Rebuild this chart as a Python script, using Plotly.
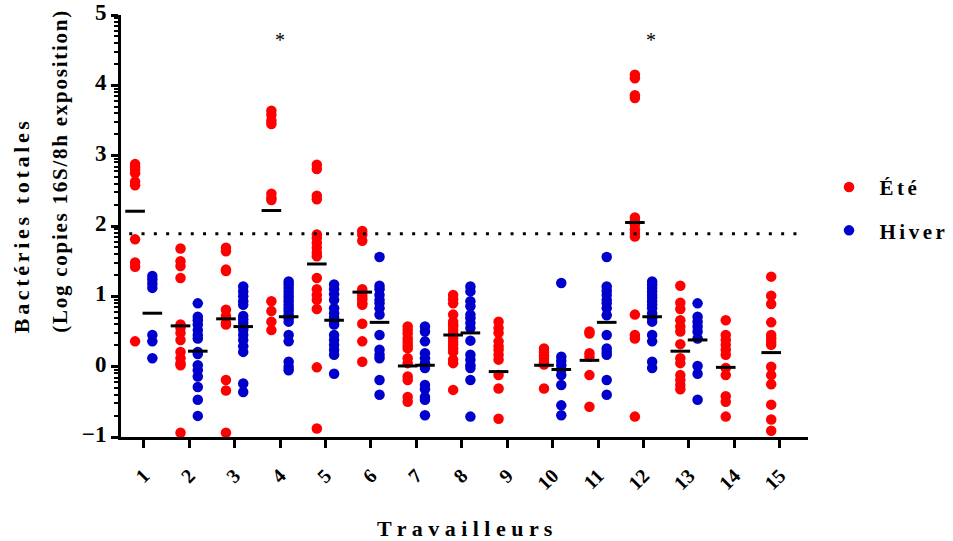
import math
import plotly.graph_objects as go

# ---------------- data ----------------
workers = list(range(1, 16))
tick_labels = [str(w) for w in workers]

ete = {
    1: [2.88, 2.84, 2.80, 2.75, 2.63, 2.58, 1.81, 1.48, 1.42, 0.36],
    2: [1.68, 1.50, 1.43, 1.26, 0.60, 0.55, 0.48, 0.38, 0.21, 0.12, 0.05, 0.02, -0.94],
    3: [1.69, 1.64, 1.38, 1.36, 0.81, 0.72, 0.62, 0.60, -0.19, -0.34, -0.94],
    4: [3.64, 3.58, 3.50, 3.45, 2.46, 2.40, 2.37, 0.93, 0.79, 0.64, 0.52],
    5: [2.87, 2.81, 2.43, 2.38, 1.88, 1.83, 1.76, 1.69, 1.62, 1.57, 1.26, 1.10, 1.02, 0.95, 0.82, -0.01, -0.88],
    6: [1.93, 1.88, 1.79, 1.10, 1.06, 1.02, 0.98, 0.95, 0.90, 0.88, 0.61, 0.36, 0.07],
    7: [0.57, 0.52, 0.47, 0.40, 0.35, 0.30, 0.26, 0.12, 0.05, -0.14, -0.19, -0.43, -0.50],
    8: [1.02, 0.96, 0.90, 0.74, 0.64, 0.60, 0.57, 0.52, 0.48, 0.45, 0.40, 0.35, 0.31, 0.26, 0.21, 0.10, 0.05, -0.33],
    9: [0.64, 0.55, 0.48, 0.36, 0.29, 0.24, 0.17, 0.10, -0.12, -0.31, -0.74],
    10: [0.26, 0.21, 0.16, 0.11, 0.06, 0.03, -0.31],
    11: [0.50, 0.47, 0.19, 0.14, -0.12, -0.57],
    12: [4.15, 4.10, 3.86, 3.82, 2.12, 2.07, 2.02, 1.95, 1.90, 1.85, 0.74, 0.45, 0.40, -0.71],
    13: [1.15, 0.91, 0.82, 0.66, 0.57, 0.50, 0.32, 0.12, 0.05, -0.12, -0.19, -0.26, -0.32],
    14: [0.66, 0.45, 0.38, 0.31, 0.24, 0.17, -0.02, -0.12, -0.42, -0.50, -0.71],
    15: [1.28, 1.01, 0.89, 0.63, 0.45, 0.40, 0.35, 0.31, 0.00, -0.12, -0.25, -0.54, -0.75, -0.91],
}

hiver = {
    1: [1.29, 1.24, 1.18, 1.12, 0.45, 0.36, 0.12],
    2: [0.90, 0.71, 0.66, 0.60, 0.52, 0.45, 0.40, 0.21, 0.18, 0.02, -0.05, -0.14, -0.29, -0.47, -0.70],
    3: [1.14, 1.07, 1.00, 0.93, 0.88, 0.72, 0.67, 0.62, 0.55, 0.52, 0.45, 0.38, 0.29, 0.21, -0.24, -0.36],
    4: [1.21, 1.17, 1.12, 1.07, 1.02, 0.98, 0.93, 0.88, 0.83, 0.79, 0.74, 0.69, 0.64, 0.45, 0.36, 0.07, 0.00, -0.05],
    5: [1.17, 1.10, 1.03, 0.95, 0.83, 0.76, 0.70, 0.64, 0.60, 0.45, 0.38, 0.31, 0.24, 0.17, -0.10],
    6: [1.56, 1.15, 1.10, 1.02, 0.95, 0.90, 0.83, 0.74, 0.45, 0.24, 0.17, 0.12, -0.19, -0.40],
    7: [0.57, 0.50, 0.36, 0.19, 0.12, 0.05, -0.02, -0.26, -0.32, -0.43, -0.47, -0.69],
    8: [1.14, 1.07, 0.93, 0.86, 0.74, 0.69, 0.62, 0.55, 0.37, 0.17, 0.10, 0.02, -0.02, -0.19, -0.71],
    10: [1.19, 0.14, 0.08, 0.02, -0.04, -0.12, -0.26, -0.55, -0.69],
    11: [1.56, 1.14, 1.08, 1.02, 0.95, 0.90, 0.83, 0.73, 0.45, 0.26, 0.21, 0.17, -0.19, -0.40],
    12: [1.21, 1.17, 1.12, 1.07, 1.02, 0.98, 0.93, 0.88, 0.83, 0.76, 0.69, 0.64, 0.45, 0.36, 0.07, -0.02],
    13: [0.90, 0.71, 0.64, 0.57, 0.50, 0.40, 0.01, -0.10, -0.47],
}

mean_ete = [2.21, 0.58, 0.68, 2.22, 1.46, 1.06, 0.01, 0.45, -0.07, 0.02, 0.09, 2.05, 0.22, -0.01, 0.20]
mean_hiver = [0.76, 0.22, 0.57, 0.71, 0.66, 0.63, 0.02, 0.48, None, -0.04, 0.63, 0.71, 0.38, None, None]

threshold = 1.89
star_workers = [4, 12]
star_level = 4.64

# ---------------- styling ----------------
RED = "#FF0000"
BLUE = "#0000CC"
SERIF = "Liberation Serif"
OFF = 0.19            # horizontal offset of each season column from the worker tick
HAIR2 = "\u200a\u200a"  # letter spacing
star_xshift = [0, 7]


def spaced(s, sep=HAIR2, word="\u00a0"):
    return sep.join(word if c == " " else c for c in s)


def flatten(d, sign):
    xs, ys = [], []
    for w in workers:
        for v in d.get(w, []):
            xs.append(w + sign * OFF)
            ys.append(v)
    return xs, ys


# log-style minor ticks (k * 10^n) on the log10 axis
minor_vals = [n + math.log10(k) for n in range(-1, 5) for k in range(2, 10)]

fig = go.Figure()

xe, ye = flatten(ete, -1)
xh, yh = flatten(hiver, +1)

LEAD = "\u00a0\u00a0"
fig.add_trace(go.Scatter(x=xe, y=ye, mode="markers", name=LEAD + spaced("Été"),
                         legendgroup="ete",
                         marker=dict(color=RED, size=10.5, line=dict(width=0))))
fig.add_trace(go.Scatter(x=xh, y=yh, mode="markers", name=LEAD + spaced("Hiver"),
                         legendgroup="hiver",
                         marker=dict(color=BLUE, size=10.5, line=dict(width=0))))

# mean bars
mx_e = [w - OFF for w, m in zip(workers, mean_ete) if m is not None]
my_e = [m for m in mean_ete if m is not None]
mx_h = [w + OFF for w, m in zip(workers, mean_hiver) if m is not None]
my_h = [m for m in mean_hiver if m is not None]
fig.add_trace(go.Scatter(x=mx_e + mx_h, y=my_e + my_h, mode="markers", showlegend=False,
                         hoverinfo="skip",
                         marker=dict(symbol="line-ew-open", size=14, color="black",
                                     line=dict(width=3, color="black"))))

# threshold dotted line
fig.add_shape(type="line", xref="paper", x0=0.012, x1=0.99, yref="y", y0=threshold, y1=threshold,
              line=dict(color="black", width=3, dash="3px,9.3px"))

# significance stars
for w, sh in zip(star_workers, star_xshift):
    fig.add_annotation(x=w, y=star_level, text="*", showarrow=False, xshift=sh,
                       font=dict(family=SERIF, size=20, color="black"))

# y-axis title (two lines)
fig.add_annotation(xref="paper", yref="paper", x=-0.145, y=0.241, xanchor="center", yanchor="bottom",
                   text=spaced("Bactéries totales"), textangle=-90, showarrow=False,
                   font=dict(family=SERIF, size=22, color="black", weight="bold"))
fig.add_annotation(xref="paper", yref="paper", x=-0.088, y=0.241, xanchor="center", yanchor="bottom",
                   text=spaced("(Log copies 16S/8h exposition)", "\u200a"), textangle=-90,
                   showarrow=False,
                   font=dict(family=SERIF, size=21, color="black", weight="bold"))

# x-axis title
fig.add_annotation(xref="paper", yref="paper", x=0.5, y=-0.2165, xanchor="center", yanchor="middle",
                   text=spaced("Travailleurs", " "), showarrow=False,
                   font=dict(family=SERIF, size=22, color="black", weight="bold"))

fig.update_layout(
    width=953, height=541,
    margin=dict(l=120.7, r=145, t=15, b=104.3, autoexpand=False),
    plot_bgcolor="white", paper_bgcolor="white",
    font=dict(family=SERIF, color="black"),
    showlegend=True,
    legend=dict(x=1.0306, y=0.64, xanchor="left", yanchor="top",
                font=dict(family=SERIF, size=21, color="black", weight="bold"),
                traceorder="grouped", tracegroupgap=13, itemwidth=30,
                bgcolor="rgba(0,0,0,0)"),
    xaxis=dict(range=[0.5, 15.62], tickmode="array", tickvals=workers, ticktext=tick_labels,
               tickangle=-45, ticks="outside", ticklen=8, tickwidth=3, tickcolor="black",
               showline=True, linewidth=3, linecolor="black", showgrid=False, zeroline=False,
               automargin=False, ticklabelstandoff=8,
               tickfont=dict(family=SERIF, size=20, color="black", weight="bold")),
    yaxis=dict(range=[-1, 5], tickmode="linear", tick0=0, dtick=1, ticks="outside", ticklen=7,
               tickwidth=3, tickcolor="black", showline=True, linewidth=3, linecolor="black",
               showgrid=False, zeroline=False, automargin=False, ticklabelstandoff=0,
               ticklabelshift=-3,
               minor=dict(tickmode="array", tickvals=minor_vals, ticks="outside", ticklen=4,
                          tickwidth=1.5, tickcolor="black"),
               tickfont=dict(family=SERIF, size=23, color="black", weight="bold")),
)

fig.write_html("out.html", config={"displayModeBar": False},
               post_script="document.body.style.margin='0';")
